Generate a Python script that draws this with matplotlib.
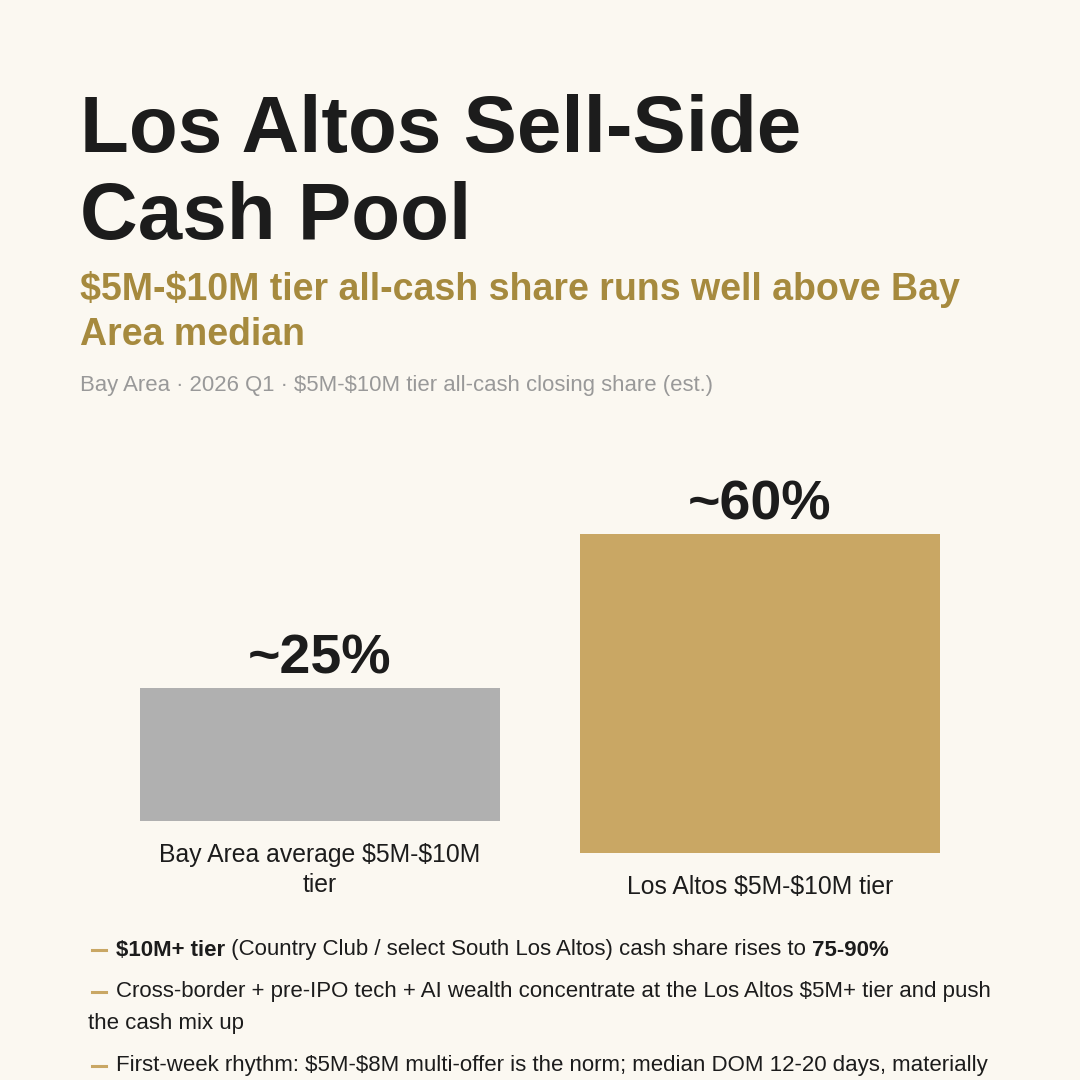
import matplotlib
matplotlib.use("Agg")
import matplotlib.pyplot as plt
from matplotlib.lines import Line2D

# Data
categories = ["Bay Area average $5M-$10M\ntier", "Los Altos $5M-$10M tier"]
shares = [25, 60]
value_labels = ["~25%", "~60%"]
bar_colors = ["#B0B0B0", "#C9A764"]

title_lines = ["Los Altos Sell-Side", "Cash Pool"]
subtitle_lines = ["$5M-$10M tier all-cash share runs well above Bay", "Area median"]
meta = "Bay Area · 2026 Q1 · $5M-$10M tier all-cash closing share (est.)"

# bullets: list of lines, each line a list of (text, bold)
bullets = [
    [[("$10M+ tier", True), (" (Country Club / select South Los Altos) cash share rises to ", False), ("75-90%", True)]],
    [[("Cross-border + pre-IPO tech + AI wealth concentrate at the Los Altos $5M+ tier and push", False)],
     [("the cash mix up", False)]],
    [[("First-week rhythm: $5M-$8M multi-offer is the norm; median DOM 12-20 days, materially", False)]],
]

BG = "#FBF8F1"
DARK = "#1C1C1C"
GOLD = "#A68A3E"
W = H = 1080

plt.rcParams['font.family'] = ['Liberation Sans', 'DejaVu Sans']
plt.rcParams['text.parse_math'] = False
fig = plt.figure(figsize=(10.8, 10.8), dpi=100, facecolor=BG)

def fx(px):
    return px / W

def fy(py):
    return 1 - py / H

# header
for txt, y in zip(title_lines, [152, 239]):
    fig.text(fx(80), fy(y), txt, fontsize=57.5, fontweight='bold', color=DARK, va='baseline')
for txt, y in zip(subtitle_lines, [300, 345]):
    fig.text(fx(80), fy(y), txt, fontsize=27, fontweight='bold', color=GOLD, va='baseline')
fig.text(fx(80), fy(386), meta, fontsize=15.9, color="#999999", va='center')

# bars: one axes per bar, same y scale, bottoms sit above their labels
px_per_unit = 319 / 60
bar_left = [140, 580]
bar_bottom = [821, 853]
bar_w = 360
ymax = 60
for i in range(len(shares)):
    ax = fig.add_axes([fx(bar_left[i]), fy(bar_bottom[i]), bar_w / W, ymax * px_per_unit / H])
    ax.set_facecolor('none')
    ax.bar([0], [shares[i]], width=1.0, color=bar_colors[i])
    ax.set_xlim(-0.5, 0.5)
    ax.set_ylim(0, ymax)
    ax.axis('off')
    ax.annotate(value_labels[i], (0, shares[i]), xytext=(0, 2), textcoords='offset points',
                ha='center', va='bottom', fontsize=40, fontweight='bold', color=DARK,
                annotation_clip=False)
    ax.annotate(categories[i], (0, 0), xytext=(0, -16), textcoords='offset points',
                ha='center', va='top', fontsize=17.8, color=DARK, linespacing=1.3,
                annotation_clip=False)

# bullets with mixed weights
fig.canvas.draw()
renderer = fig.canvas.get_renderer()
line_y = [[950], [992, 1024], [1066]]
for b, lines in enumerate(bullets):
    for li, pieces in enumerate(lines):
        y = line_y[b][li]
        if li == 0:
            fig.add_artist(Line2D([fx(92), fx(106)], [fy(y), fy(y)], color="#C9A764", lw=2.2,
                                  transform=fig.transFigure))
            x = 116
        else:
            x = 88
        for txt, bold in pieces:
            t = fig.text(fx(x), fy(y), txt, fontsize=16, color=DARK, va='center',
                         fontweight='bold' if bold else 'normal')
            x += t.get_window_extent(renderer).width

fig.savefig("out.png", dpi=100, facecolor=BG)
